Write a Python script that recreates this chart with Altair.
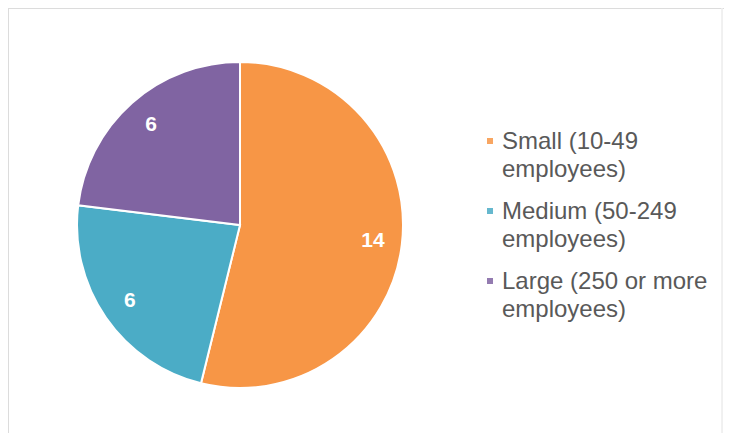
import altair as alt
import pandas as pd

categories = ["Small (10-49 employees)", "Medium (50-249 employees)", "Large (250 or more employees)"]
legend_labels = ["Small (10-49\nemployees)", "Medium (50-249\nemployees)", "Large (250 or more\nemployees)"]
values = [14, 6, 6]
colors = ["#F79646", "#4BACC6", "#8064A2"]

df = pd.DataFrame({
    "category": categories,
    "legend": legend_labels,
    "value": values,
    "order": list(range(len(categories))),
})

CX, CY = 232, 217
color = alt.Color("category:N", scale=alt.Scale(domain=categories, range=colors), legend=None)
theta = alt.Theta("value:Q", stack=True)
order = alt.Order("order:Q")

base = alt.Chart(df)

pie = base.mark_arc(outerRadius=163, stroke="white", strokeWidth=2).encode(
    theta=theta, color=color, order=order,
    x=alt.value(CX), y=alt.value(CY),
)

labels = base.mark_text(radius=134, fontSize=21, fontWeight="bold", color="white",
                        font="Liberation Sans").encode(
    theta=theta, text="value:Q", order=order,
    x=alt.value(CX), y=alt.value(CY),
)

ypos = alt.Y("order:Q", scale=alt.Scale(domain=[0, 2], range=[133, 273]), axis=None)

leg_sym = base.mark_square(size=36, opacity=0.85).encode(
    x=alt.value(482), y=ypos, color=color,
)

leg_txt = base.mark_text(align="left", baseline="alphabetic", dy=8, fontSize=24, lineHeight=28,
                         lineBreak="\n", color="#595959", font="Liberation Sans").encode(
    x=alt.value(494), y=ypos, text="legend:N",
)

frame_top = base.mark_rule(color="#DCDCDC", strokeWidth=2).encode(
    x=alt.value(0), x2=alt.value(716), y=alt.value(0)
)
frame_left = base.mark_rule(color="#DCDCDC", strokeWidth=2).encode(
    x=alt.value(0), y=alt.value(0), y2=alt.value(425)
)
frame_right = base.mark_rule(color="#EEEEEE", strokeWidth=1).encode(
    x=alt.value(714), y=alt.value(0), y2=alt.value(425)
)

chart = alt.layer(frame_top, frame_left, frame_right, pie, labels, leg_sym, leg_txt).properties(
    width=716, height=425,
    autosize=alt.AutoSizeParams(type="none"),
    padding=0,
).configure_view(stroke=None)

chart.save("out.html", embed_options={"renderer": "svg", "actions": False})
